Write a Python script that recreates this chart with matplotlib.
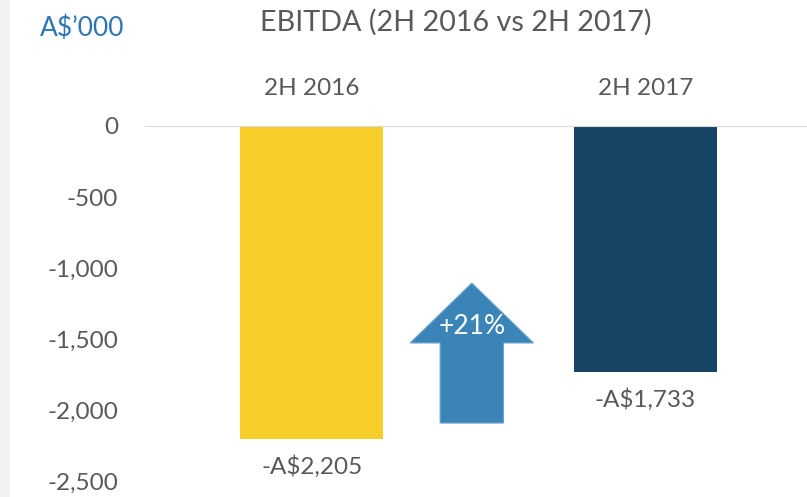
import matplotlib.pyplot as plt
from matplotlib.patches import Polygon, Rectangle

periods = ['2H 2016', '2H 2017']
ebitda = [-2205, -1733]
value_labels = ['-A$2,205', '-A$1,733']
colors = ['#F7CD29', '#174365']
yticks = [0, -500, -1000, -1500, -2000, -2500]
change_label = '+21%'

plt.rcParams['font.family'] = ['Lato', 'DejaVu Sans']
grey = '#595959'

fig = plt.figure(figsize=(8.07, 4.97), dpi=100)
fig.patches.append(Rectangle((0, 0), 9 / 807, 1, transform=fig.transFigure,
                             color='#F2F2F2', zorder=0))

W, H = 807, 497
ax = fig.add_axes([145 / W, (H - 481) / H, (812 - 145) / W, (481 - 126) / H])
x = list(range(len(periods)))
ax.bar(x, ebitda, width=0.43, color=colors, zorder=2)
ax.set_xlim(-0.5, 1.5)
ax.set_ylim(-2500, 0)
ax.axhline(0, color='#D9D9D9', lw=1.5, zorder=3)
for s in ax.spines.values():
    s.set_visible(False)
ax.set_xticks([])
ax.set_yticks(yticks)
ax.set_yticklabels([f'{v:,}' for v in yticks])
ax.tick_params(axis='y', length=0, pad=19.5, labelsize=17.5, labelcolor=grey)

for xi, v, lab in zip(x, ebitda, value_labels):
    ax.text(xi, 265, periods[xi], ha='center', va='center', fontsize=17.5,
            color=grey, clip_on=False)
    ax.text(xi, v - 195, lab, ha='center', va='center', fontsize=17.5,
            color=grey, clip_on=False)

# up arrow between the bars
cx, hw, sw = 0.48, 0.185, 0.095
tip, base, bottom = -1106, -1528, -2092
arrow = Polygon([(cx, tip), (cx + hw, base), (cx + sw, base), (cx + sw, bottom),
                 (cx - sw, bottom), (cx - sw, base), (cx - hw, base)],
                closed=True, facecolor='#3A84B7', edgecolor='#6FA6D0', lw=0.8, zorder=4)
ax.add_patch(arrow)
ax.text(cx, -1410, change_label, ha='center', va='center', fontsize=19,
        color='white', zorder=5)

fig.text(456 / W, 1 - 22 / H, 'EBITDA (2H 2016 vs 2H 2017)', ha='center',
         va='center', fontsize=20.7, color=grey)
fig.text(40 / W, 1 - 28 / H, 'A$\u2019000', ha='left', va='center',
         fontsize=19, color='#2E75B6')

fig.savefig('out.png', dpi=100)
